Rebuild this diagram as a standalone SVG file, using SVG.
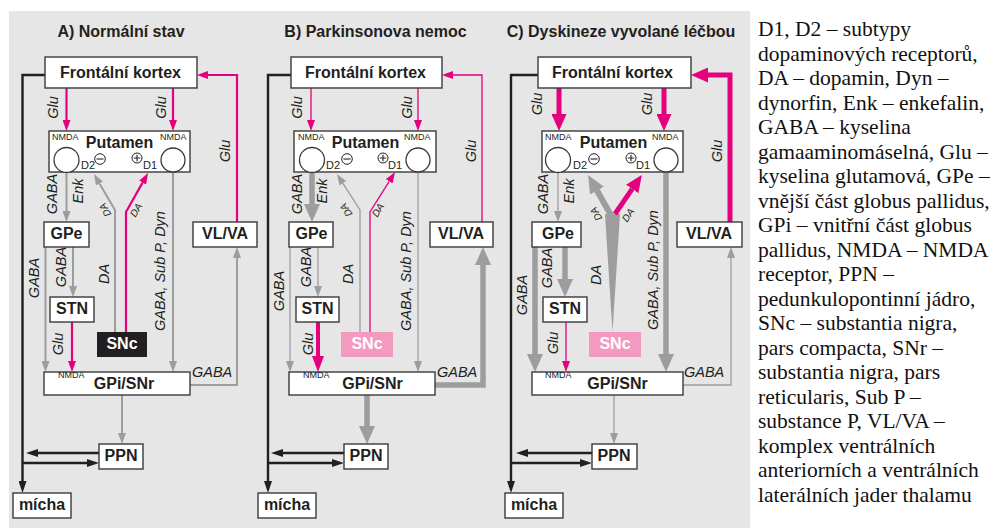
<svg xmlns="http://www.w3.org/2000/svg" width="996" height="529" viewBox="0 0 996 529">
<style>
.bg{fill:#e6e6e6}
.box{fill:#fff;stroke:#3a3a3a;stroke-width:1.4}
.nt{font-family:"Liberation Sans",Arial,sans-serif;font-weight:bold;font-size:16px;fill:#231f20;text-anchor:middle}
.tt{font-family:"Liberation Sans",Arial,sans-serif;font-weight:bold;font-size:16px;fill:#231f20;text-anchor:middle}
.lb{font-family:"Liberation Sans",Arial,sans-serif;font-style:italic;font-size:14.5px;fill:#231f20;text-anchor:middle}
.lbh{font-family:"Liberation Sans",Arial,sans-serif;font-style:italic;font-size:14.5px;fill:#231f20}
.sda{font-family:"Liberation Sans",Arial,sans-serif;font-style:italic;font-size:10px;fill:#231f20;text-anchor:middle}
.nm{font-family:"Liberation Sans",Arial,sans-serif;font-size:9px;fill:#231f20}
.dd{font-family:"Liberation Sans",Arial,sans-serif;font-size:11px;fill:#231f20}
.rc{fill:#fff;stroke:#3a3a3a;stroke-width:1.3}
.pm{fill:#fff;stroke:#231f20;stroke-width:1}
.pl{stroke:#231f20;stroke-width:1.1}
.mg{fill:none;stroke:#e5007d}
.gr{fill:none;stroke:#9d9d9d}
.bk{fill:none;stroke:#231f20;stroke-width:2.4}
.leg{font-family:"Liberation Serif","Times New Roman",serif;font-size:21.5px;fill:#111}
</style>
<defs>
<marker id="mgm" markerUnits="userSpaceOnUse" markerWidth="11" markerHeight="8" refX="0" refY="4" orient="auto"><path d="M0,0 L11,4 L0,8 z" fill="#e5007d"/></marker>
<marker id="mgml" markerUnits="userSpaceOnUse" markerWidth="16" markerHeight="12" refX="0" refY="6" orient="auto"><path d="M0,0 L16,6 L0,12 z" fill="#e5007d"/></marker>
<marker id="mgl" markerUnits="userSpaceOnUse" markerWidth="17" markerHeight="15" refX="0" refY="7.5" orient="auto"><path d="M0,0 L17,7.5 L0,15 z" fill="#e5007d"/></marker>
<marker id="grm" markerUnits="userSpaceOnUse" markerWidth="11" markerHeight="8" refX="0" refY="4" orient="auto"><path d="M0,0 L11,4 L0,8 z" fill="#9d9d9d"/></marker>
<marker id="grl" markerUnits="userSpaceOnUse" markerWidth="18" markerHeight="16" refX="0" refY="8" orient="auto"><path d="M0,0 L18,8 L0,16 z" fill="#9d9d9d"/></marker>
<marker id="bka" markerUnits="userSpaceOnUse" markerWidth="12" markerHeight="8" refX="0" refY="4" orient="auto"><path d="M0,0 L12,4 L0,8 z" fill="#231f20"/></marker>
</defs>

<rect class="bg" x="9" y="11" width="741" height="517"/>

<g id="titles">
<text class="tt" x="121" y="37">A) Normální stav</text>
<text class="tt" x="375.5" y="37">B) Parkinsonova nemoc</text>
<text class="tt" x="621" y="37">C) Dyskineze vyvolané léčbou</text>
</g>

<g id="connectors">
<!-- Panel A -->
<path class="bk" d="M45,75 H22.5 V481" marker-end="url(#bka)"/>
<path class="bk" d="M99,453 H38" marker-end="url(#bka)"/>
<path class="bk" d="M22.5,463 H87" marker-end="url(#bka)"/>
<path class="mg" stroke-width="2.2" d="M66.5,88 V120" marker-end="url(#mgm)"/>
<path class="mg" stroke-width="2.2" d="M173,88 V120" marker-end="url(#mgm)"/>
<path class="mg" stroke-width="2.2" d="M237,222 V75 H208" marker-end="url(#mgm)"/>
<path class="mg" stroke-width="2.2" d="M126,332 V212 L142.6,182.6" marker-end="url(#mgm)"/>
<path class="mg" stroke-width="2.2" d="M72,322 V361" marker-end="url(#mgm)"/>
<path class="gr" stroke-width="2" d="M66.5,173 V211" marker-end="url(#grm)"/>
<path class="gr" stroke-width="2" d="M73,247 V286" marker-end="url(#grm)"/>
<path class="gr" stroke-width="2" d="M45.5,247 V361" marker-end="url(#grm)"/>
<path class="gr" stroke-width="2" d="M173,173 V361" marker-end="url(#grm)"/>
<path class="gr" stroke-width="2" d="M122,395 V433" marker-end="url(#grm)"/>
<path class="gr" stroke-width="2" d="M190,385 H237 V258" marker-end="url(#grm)"/>
<path class="gr" stroke-width="2" d="M115,332 V210 L99.5,183.5" marker-end="url(#grm)"/>
<!-- Panel B -->
<path class="bk" d="M291,75 H268 V481" marker-end="url(#bka)"/>
<path class="bk" d="M344,453 H283" marker-end="url(#bka)"/>
<path class="bk" d="M268,463 H332" marker-end="url(#bka)"/>
<path class="mg" stroke-width="1.3" d="M311,88 V120" marker-end="url(#mgm)"/>
<path class="mg" stroke-width="1.3" d="M418,88 V120" marker-end="url(#mgm)"/>
<path class="mg" stroke-width="1.3" d="M482,222 V75 H453" marker-end="url(#mgm)"/>
<path class="mg" stroke-width="1.3" d="M370,332 V212 L389.2,181.3" marker-end="url(#mgm)"/>
<path class="mg" stroke-width="4" d="M318,322 V356" marker-end="url(#mgml)"/>
<path class="gr" stroke-width="5.5" d="M312,173 V204" marker-end="url(#grl)"/>
<path class="gr" stroke-width="1.3" d="M318,247 V286" marker-end="url(#grm)"/>
<path class="gr" stroke-width="1.3" d="M290,247 V361" marker-end="url(#grm)"/>
<path class="gr" stroke-width="1.3" d="M418,173 V361" marker-end="url(#grm)"/>
<path class="gr" stroke-width="1.3" d="M360,332 V210 L342.9,183.3" marker-end="url(#grm)"/>
<path class="gr" stroke-width="5.5" d="M367,395 V426" marker-end="url(#grl)"/>
<path class="gr" stroke-width="5.5" d="M435,385 H483 V265" marker-end="url(#grl)"/>
<!-- Panel C -->
<path class="bk" d="M538,75 H511 V481" marker-end="url(#bka)"/>
<path class="bk" d="M592,453 H528" marker-end="url(#bka)"/>
<path class="bk" d="M511,463 H580" marker-end="url(#bka)"/>
<path class="mg" stroke-width="5" d="M559,88 V114" marker-end="url(#mgl)"/>
<path class="mg" stroke-width="5" d="M664,88 V114" marker-end="url(#mgl)"/>
<path class="mg" stroke-width="5" d="M730,222 V75 H708" marker-end="url(#mgl)"/>
<path class="mg" stroke-width="1.3" d="M566,322 V361" marker-end="url(#mgm)"/>
<path class="gr" stroke-width="1.3" d="M558,173 V211" marker-end="url(#grm)"/>
<path class="gr" stroke-width="5.5" d="M565,247 V279" marker-end="url(#grl)"/>
<path class="gr" stroke-width="5.5" d="M535,247 V354" marker-end="url(#grl)"/>
<path class="gr" stroke-width="5.5" d="M666,173 V354" marker-end="url(#grl)"/>
<path class="gr" stroke-width="1.3" d="M614,395 V433" marker-end="url(#grm)"/>
<path class="gr" stroke-width="1.3" d="M683,385 H731 V258" marker-end="url(#grm)"/>
<polygon points="612.5,332 605,214 620,214" fill="#9d9d9d"/>
<path class="gr" stroke-width="6" d="M612,217 L597,190.6" marker-end="url(#grl)"/>
<path class="mg" stroke-width="5" d="M615,214 L632.2,188.9" marker-end="url(#mgl)"/>
</g>

<g id="labels">
<!-- A -->
<text class="lb" transform="translate(53,107.5) rotate(-90)" y="5">Glu</text>
<text class="lb" transform="translate(161,107.5) rotate(-90)" y="5">Glu</text>
<text class="lb" transform="translate(225,151) rotate(-90)" y="5">Glu</text>
<text class="lb" transform="translate(52,194) rotate(-90)" y="5">GABA</text>
<text class="lb" transform="translate(78,191) rotate(-90)" y="5">Enk</text>
<text class="lb" transform="translate(61,267) rotate(-90)" y="5">GABA</text>
<text class="lb" transform="translate(34,278) rotate(-90)" y="5">GABA</text>
<text class="lb" transform="translate(104,274) rotate(-90)" y="5">DA</text>
<text class="lb" transform="translate(160,271) rotate(-90)" y="5">GABA, Sub P, Dyn</text>
<text class="lb" transform="translate(58,344) rotate(-90)" y="5">Glu</text>
<text class="lbh" x="192" y="377">GABA</text>
<text class="sda" transform="translate(105,210) rotate(-120)" y="3.5">DA</text>
<text class="sda" transform="translate(136,210) rotate(-60)" y="3.5">DA</text>
<!-- B -->
<text class="lb" transform="translate(297,107.5) rotate(-90)" y="5">Glu</text>
<text class="lb" transform="translate(407,107.5) rotate(-90)" y="5">Glu</text>
<text class="lb" transform="translate(471,151) rotate(-90)" y="5">Glu</text>
<text class="lb" transform="translate(297,194) rotate(-90)" y="5">GABA</text>
<text class="lb" transform="translate(322,191) rotate(-90)" y="5">Enk</text>
<text class="lb" transform="translate(306,267) rotate(-90)" y="5">GABA</text>
<text class="lb" transform="translate(279,291) rotate(-90)" y="5">GABA</text>
<text class="lb" transform="translate(348,274) rotate(-90)" y="5">DA</text>
<text class="lb" transform="translate(406,271) rotate(-90)" y="5">GABA, Sub P, Dyn</text>
<text class="lb" transform="translate(308,344) rotate(-90)" y="5">Glu</text>
<text class="lbh" x="437" y="377">GABA</text>
<text class="sda" transform="translate(346,210) rotate(-122)" y="3.5">DA</text>
<text class="sda" transform="translate(378,210) rotate(-58)" y="3.5">DA</text>
<!-- C -->
<text class="lb" transform="translate(537,104) rotate(-90)" y="5">Glu</text>
<text class="lb" transform="translate(647,104) rotate(-90)" y="5">Glu</text>
<text class="lb" transform="translate(717,151) rotate(-90)" y="5">Glu</text>
<text class="lb" transform="translate(543,194) rotate(-90)" y="5">GABA</text>
<text class="lb" transform="translate(569,191) rotate(-90)" y="5">Enk</text>
<text class="lb" transform="translate(547,268) rotate(-90)" y="5">GABA</text>
<text class="lb" transform="translate(522,295) rotate(-90)" y="5">GABA</text>
<text class="lb" transform="translate(596,275) rotate(-90)" y="5">DA</text>
<text class="lb" transform="translate(653,270) rotate(-90)" y="5">GABA, Sub P, Dyn</text>
<text class="lb" transform="translate(553,343) rotate(-90)" y="5">Glu</text>
<text class="lbh" x="684" y="377">GABA</text>
<text class="sda" transform="translate(596,214) rotate(-120)" y="3.5">DA</text>
<text class="sda" transform="translate(628,215) rotate(-55)" y="3.5">DA</text>
</g>

<!-- Panel A nodes -->
<g id="a-frontal"><rect class="box" x="45" y="57" width="152" height="31"/><text class="nt" x="120.5" y="78">Frontální kortex</text></g>
<g id="a-putamen">
<rect class="box" x="49" y="131" width="141" height="41"/>
<text class="nm" x="52" y="140">NMDA</text><text class="nm" x="160" y="140">NMDA</text>
<text class="nt" x="119.5" y="148">Putamen</text>
<circle class="rc" cx="66.5" cy="160" r="12.5"/><circle class="rc" cx="173" cy="160" r="12"/>
<text class="dd" x="81" y="169">D2</text><text class="dd" x="143" y="169">D1</text>
<circle class="pm" cx="100" cy="159" r="5.3"/><path class="pl" d="M96.5,159 H103.5"/>
<circle class="pm" cx="137" cy="158" r="5"/><path class="pl" d="M133.8,158 H140.2 M137,154.8 V161.2"/>
</g>
<g id="a-gpe"><rect class="box" x="44" y="222" width="45" height="25"/><text class="nt" x="66.5" y="239">GPe</text></g>
<g id="a-vlva"><rect class="box" x="193" y="222" width="64" height="25"/><text class="nt" x="225" y="239">VL/VA</text></g>
<g id="a-stn"><rect class="box" x="50" y="297" width="44" height="25"/><text class="nt" x="72" y="314">STN</text></g>
<g id="a-snc"><rect x="97" y="332" width="50" height="25" fill="#231f20"/><text class="nt" x="122" y="349" style="fill:#fff">SNc</text></g>
<g id="a-gpi"><rect class="box" x="44" y="372" width="146" height="23"/><text class="nm" x="58" y="378">NMDA</text><text class="nt" x="124" y="389">GPi/SNr</text></g>
<g id="a-ppn"><rect class="box" x="99" y="444" width="44" height="25"/><text class="nt" x="121" y="461">PPN</text></g>
<g id="a-micha"><rect class="box" x="13" y="493" width="58" height="25"/><text class="nt" x="42" y="510">mícha</text></g>

<!-- Panel B nodes -->
<g id="b-frontal"><rect class="box" x="291" y="57" width="151" height="31"/><text class="nt" x="365.5" y="78">Frontální kortex</text></g>
<g id="b-putamen">
<rect class="box" x="294" y="131" width="142" height="41"/>
<text class="nm" x="298" y="140">NMDA</text><text class="nm" x="404" y="140">NMDA</text>
<text class="nt" x="365.5" y="148">Putamen</text>
<circle class="rc" cx="312" cy="160" r="12.5"/><circle class="rc" cx="418" cy="160" r="12"/>
<text class="dd" x="326" y="169">D2</text><text class="dd" x="388" y="169">D1</text>
<circle class="pm" cx="347" cy="159" r="5.3"/><path class="pl" d="M343.5,159 H350.5"/>
<circle class="pm" cx="383" cy="158" r="5"/><path class="pl" d="M379.8,158 H386.2 M383,154.8 V161.2"/>
</g>
<g id="b-gpe"><rect class="box" x="289" y="222" width="44" height="25"/><text class="nt" x="311.5" y="239">GPe</text></g>
<g id="b-vlva"><rect class="box" x="430" y="222" width="63" height="25"/><text class="nt" x="461" y="239">VL/VA</text></g>
<g id="b-stn"><rect class="box" x="296" y="297" width="43" height="25"/><text class="nt" x="317.5" y="314">STN</text></g>
<g id="b-snc"><rect x="341" y="332" width="52" height="25" fill="#f49ac1"/><text class="nt" x="367" y="349" style="fill:#fff">SNc</text></g>
<g id="b-gpi"><rect class="box" x="289" y="372" width="146" height="23"/><text class="nm" x="303" y="378">NMDA</text><text class="nt" x="372.5" y="389">GPi/SNr</text></g>
<g id="b-ppn"><rect class="box" x="344" y="444" width="44" height="25"/><text class="nt" x="366" y="461">PPN</text></g>
<g id="b-micha"><rect class="box" x="258" y="493" width="58" height="25"/><text class="nt" x="287" y="510">mícha</text></g>

<!-- Panel C nodes -->
<g id="c-frontal"><rect class="box" x="538" y="57" width="153" height="31"/><text class="nt" x="612.5" y="78">Frontální kortex</text></g>
<g id="c-putamen">
<rect class="box" x="542" y="131" width="141" height="41"/>
<text class="nm" x="545" y="140">NMDA</text><text class="nm" x="652" y="140">NMDA</text>
<text class="nt" x="613.5" y="148">Putamen</text>
<circle class="rc" cx="558" cy="160" r="12.5"/><circle class="rc" cx="666" cy="160" r="12"/>
<text class="dd" x="573" y="169">D2</text><text class="dd" x="636" y="169">D1</text>
<circle class="pm" cx="594" cy="159" r="5.3"/><path class="pl" d="M590.5,159 H597.5"/>
<circle class="pm" cx="631" cy="158" r="5"/><path class="pl" d="M627.8,158 H634.2 M631,154.8 V161.2"/>
</g>
<g id="c-gpe"><rect class="box" x="532" y="222" width="49" height="25"/><text class="nt" x="558" y="239">GPe</text></g>
<g id="c-vlva"><rect class="box" x="677" y="222" width="65" height="25"/><text class="nt" x="709" y="239">VL/VA</text></g>
<g id="c-stn"><rect class="box" x="543" y="297" width="44" height="25"/><text class="nt" x="565" y="314">STN</text></g>
<g id="c-snc"><rect x="589" y="332" width="52" height="25" fill="#f49ac1"/><text class="nt" x="615" y="349" style="fill:#fff">SNc</text></g>
<g id="c-gpi"><rect class="box" x="532" y="372" width="151" height="23"/><text class="nm" x="545" y="378">NMDA</text><text class="nt" x="617.5" y="389">GPi/SNr</text></g>
<g id="c-ppn"><rect class="box" x="592" y="444" width="45" height="25"/><text class="nt" x="614" y="461">PPN</text></g>
<g id="c-micha"><rect class="box" x="505" y="493" width="58" height="25"/><text class="nt" x="534" y="510">mícha</text></g>

<g id="legend">
<text class="leg" x="758" y="36">D1, D2 – subtypy</text>
<text class="leg" x="758" y="60.5">dopaminových receptorů,</text>
<text class="leg" x="758" y="85">DA – dopamin, Dyn –</text>
<text class="leg" x="758" y="109.5">dynorfin, Enk – enkefalin,</text>
<text class="leg" x="758" y="134">GABA – kyselina</text>
<text class="leg" x="758" y="158.5">gamaaminomáselná, Glu –</text>
<text class="leg" x="758" y="183">kyselina glutamová, GPe –</text>
<text class="leg" x="758" y="207.5">vnější část globus pallidus,</text>
<text class="leg" x="758" y="232">GPi – vnitřní část globus</text>
<text class="leg" x="758" y="256.5">pallidus, NMDA – NMDA</text>
<text class="leg" x="758" y="281">receptor, PPN –</text>
<text class="leg" x="758" y="305.5">pedunkulopontinní jádro,</text>
<text class="leg" x="758" y="330">SNc – substantia nigra,</text>
<text class="leg" x="758" y="354.5">pars compacta, SNr –</text>
<text class="leg" x="758" y="379">substantia nigra, pars</text>
<text class="leg" x="758" y="403.5">reticularis, Sub P –</text>
<text class="leg" x="758" y="428">substance P, VL/VA –</text>
<text class="leg" x="758" y="452.5">komplex ventrálních</text>
<text class="leg" x="758" y="477">anteriorních a ventrálních</text>
<text class="leg" x="758" y="501.5">laterálních jader thalamu</text>
</g>
</svg>
